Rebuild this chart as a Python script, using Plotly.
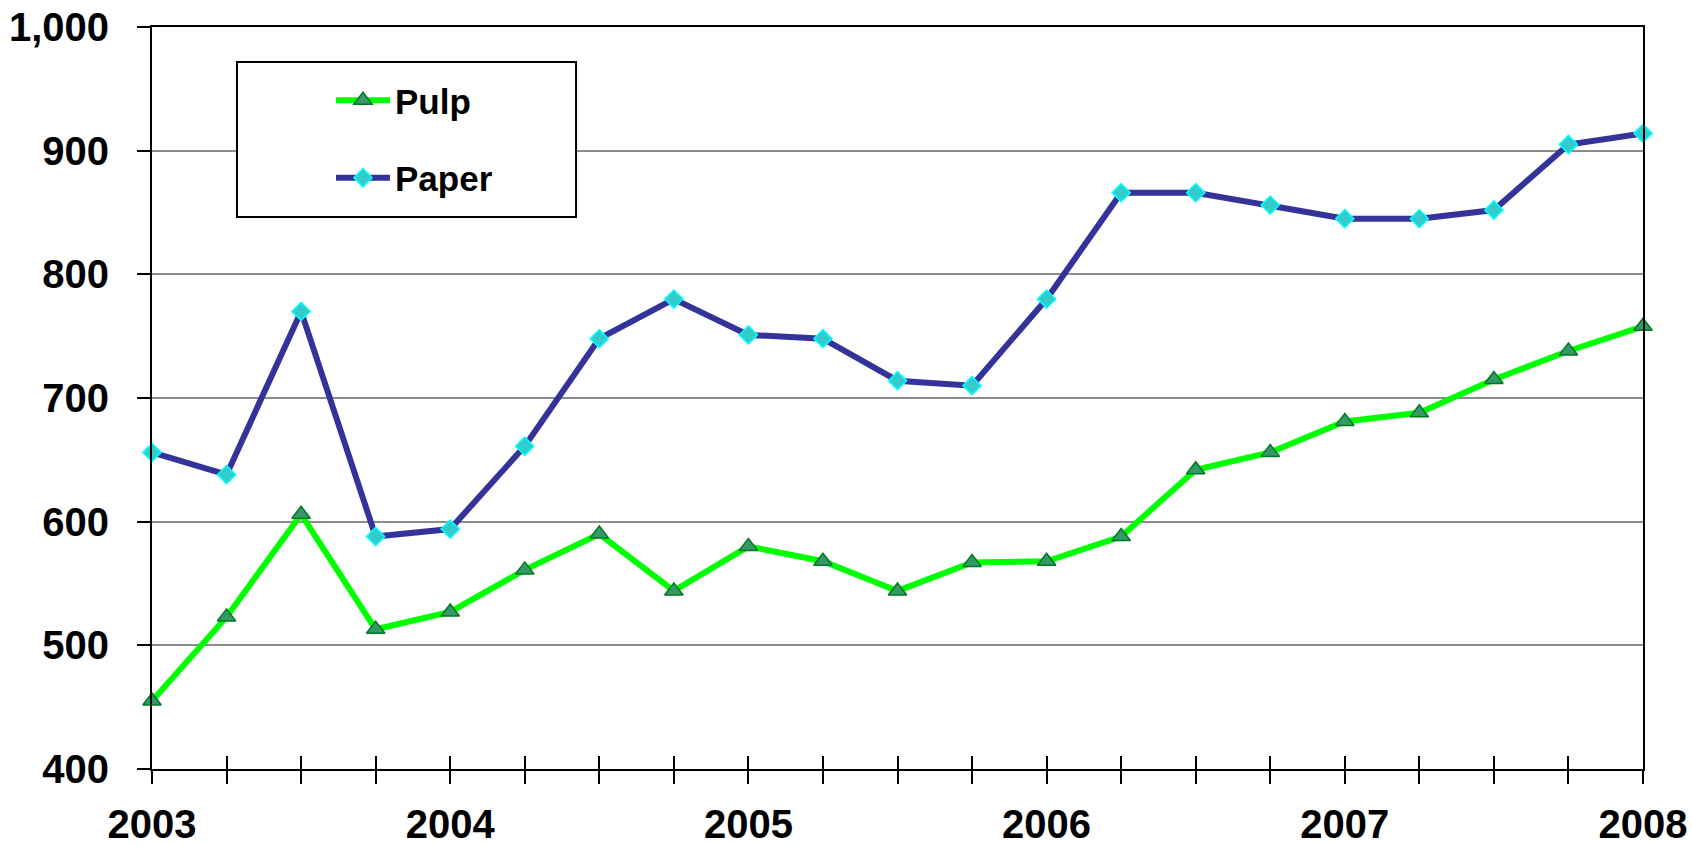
import plotly.graph_objects as go

quarters = [f"{y} Q{q}" for y in range(2003, 2008) for q in range(1, 5)] + ["2008 Q1"]
pulp = [455, 523, 606, 513, 527, 561, 590, 544, 580, 568, 544, 567, 568, 588,
        642, 656, 681, 688, 715, 738, 758]
paper = [656, 638, 770, 588, 594, 661, 748, 780, 751, 748, 714, 710, 780, 866,
         866, 856, 845, 845, 852, 905, 914]
tick_text = [q[:4] if q.endswith("Q1") else "" for q in quarters]
y_ticks = [400, 500, 600, 700, 800, 900, 1000]

FONT = "Liberation Sans, Arial, sans-serif"

fig = go.Figure()
fig.add_trace(go.Scatter(
    x=quarters, y=pulp, name="Pulp", mode="lines+markers",
    line=dict(color="#00FF00", width=6),
    marker=dict(symbol="triangle-up", size=16, color="#339966",
                line=dict(color="#007A1F", width=1.5)),
    legendgroup="a", cliponaxis=False))
fig.add_trace(go.Scatter(
    x=quarters, y=paper, name="Paper", mode="lines+markers",
    line=dict(color="#333399", width=6),
    marker=dict(symbol="diamond", size=14, color="#33CCCC",
                line=dict(color="#00FFFF", width=1.5)),
    legendgroup="b", cliponaxis=False))
fig.add_trace(go.Scatter(x=quarters, y=pulp, xaxis="x2", yaxis="y",
                         mode="none", showlegend=False, hoverinfo="skip"))

fig.update_layout(
    width=1692, height=845,
    margin=dict(l=152, r=49, t=27, b=76, autoexpand=False),
    paper_bgcolor="white", plot_bgcolor="white",
    font=dict(family=FONT, color="black"),
    showlegend=True,
    legend=dict(
        x=0.057, y=0.9407, xanchor="left", yanchor="top",
        bgcolor="rgba(0,0,0,0)", borderwidth=0,
        font=dict(size=35, family=FONT, color="black", weight="bold"),
        tracegroupgap=29, indentation=94, itemwidth=54,
    ),
    xaxis=dict(
        type="category", range=[0, 20], automargin=False,
        tickvals=quarters, ticktext=tick_text,
        ticks="outside", ticklen=13, tickwidth=2, tickcolor="black",
        showline=True, linecolor="black", linewidth=2, mirror=True,
        showgrid=False, zeroline=False,
        tickfont=dict(size=40, family=FONT, color="black", weight="bold"),
        ticklabelstandoff=6,
    ),
    xaxis2=dict(
        type="category", range=[0, 20], overlaying="x", anchor="y",
        automargin=False,
        tickvals=quarters, ticktext=["" for _ in quarters],
        ticks="inside", ticklen=13, tickwidth=2, tickcolor="black",
        showline=False, showgrid=False, zeroline=False, showticklabels=False,
    ),
    yaxis=dict(
        range=[400, 1000], tickvals=y_ticks, automargin=False,
        ticktext=[f"{v:,}" for v in y_ticks],
        ticks="outside", ticklen=13, tickwidth=2, tickcolor="black",
        showline=True, linecolor="black", linewidth=2, mirror=True,
        showgrid=True, gridcolor="#8C8C8C", gridwidth=1.5, zeroline=False,
        tickfont=dict(size=40, family=FONT, color="black", weight="bold"),
        ticklabelstandoff=20,
    ),
    shapes=[dict(type="rect", xref="paper", yref="paper",
                 x0=0.0570, x1=0.2844, y0=0.7439, y1=0.9528,
                 line=dict(color="black", width=2), fillcolor="white",
                 layer="above")],
)

fig.write_html("out.html")
